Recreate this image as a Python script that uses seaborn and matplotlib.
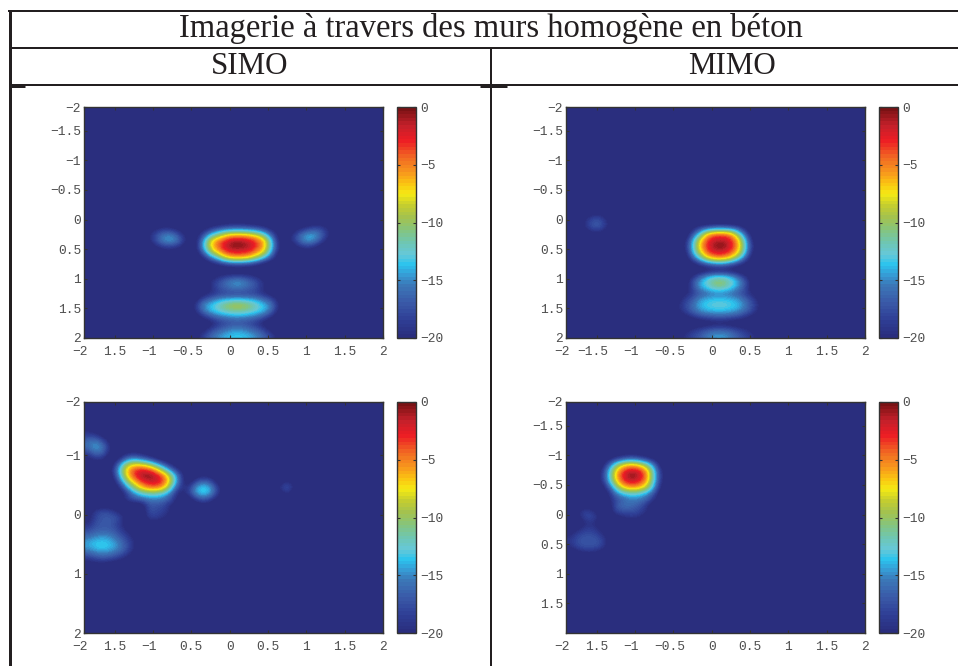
import numpy as np
import matplotlib
matplotlib.use('Agg')
import matplotlib.pyplot as plt
from matplotlib.colors import LinearSegmentedColormap
from matplotlib.lines import Line2D
from matplotlib.transforms import ScaledTranslation
import seaborn as sns

# Image values in dB on a 0.1 grid covering -1.9..2
n_cells = 39
floor_db = -22

simo_top_main = [
    [-22, -22, -22, -21.5, -21, -20.5, -20.5, -21, -21.5, -22, -22, -22],
    [-22, -21, -19, -17.5, -16.5, -16, -16, -16.5, -17, -18.5, -20.5, -22],
    [-21.5, -18, -14, -11, -8, -7, -7, -7.5, -9, -12, -17, -21],
    [-21.5, -15, -8, -5, -3, -1.2, -1.2, -2.2, -3.5, -6.5, -13.5, -21],
    [-21, -14, -7.5, -4, -1.5, 0, -0.2, -1, -3, -6, -13, -20],
    [-21.5, -16.5, -10, -6.5, -3.5, -2.5, -2.5, -3, -5, -8, -14.5, -21],
    [-22, -20.5, -16, -12.5, -8, -6.5, -6.5, -7.5, -10, -13.5, -18, -22],
    [-22, -22, -21, -19.5, -18, -17, -17, -17.5, -19, -21, -22, -22],
    [-22, -22, -22, -22, -22, -22, -22, -22, -22, -22, -22, -22],
]
simo_top_lower = [
    [-22, -22, -21.5, -20, -19, -18.5, -18.5, -19, -20, -21.5, -22, -22],
    [-22, -22, -19.5, -17.5, -16, -14.5, -14.5, -16, -17.5, -19.5, -22, -22],
    [-22, -22, -20, -17.5, -16.5, -15.5, -15.5, -16.5, -17.5, -20, -22, -22],
    [-22, -21, -19.5, -18.5, -18, -18, -18, -18, -18.5, -19.5, -21, -22],
    [-21, -17.5, -16, -14.5, -14, -13.5, -13.5, -14, -14.5, -16, -17.5, -21],
    [-19, -15, -13.5, -12, -10, -9, -9, -10, -12, -13.5, -15.5, -20],
    [-20, -16, -14, -13, -12, -11.5, -11.5, -12, -13, -14, -16.5, -21],
    [-22, -19.5, -17.5, -16, -15.5, -15, -15, -15.5, -16, -17.5, -20, -22],
    [-22, -22, -21, -19, -18, -17.5, -17.5, -18, -19, -21, -22, -22],
    [-22, -21, -18.5, -17, -16, -15, -15, -16, -17, -18.5, -21, -22],
    [-21, -18.5, -16.5, -15, -14, -13.5, -13.5, -14, -15, -16.5, -18.5, -21],
]
simo_top_side_left = [
    [-21.5, -20, -19, -19.5, -21, -22],
    [-20, -17.5, -15.5, -15.5, -18, -21],
    [-20, -17, -14.5, -14, -16.5, -20.5],
    [-21.5, -19.5, -18, -18, -19, -21.5],
    [-22, -22, -21, -21, -22, -22],
]
simo_top_side_right = [
    [-22, -22, -22, -21.5, -21, -21.5, -22],
    [-22, -21, -19.5, -18, -17.5, -19, -21.5],
    [-21.5, -18.5, -15.5, -14, -15, -18, -21],
    [-21, -18, -15, -14, -16, -19.5, -22],
    [-22, -20.5, -18.5, -18, -20, -22, -22],
    [-22, -22, -21.5, -21.5, -22, -22, -22],
]

mimo_top_main = [
    [-22, -22, -22, -22, -21.5, -21.5, -22, -22, -22, -22],
    [-22, -20.5, -17.5, -15.5, -14.5, -14.5, -15, -17, -20.5, -22],
    [-22, -17.5, -12, -6, -4, -4, -5, -10.5, -17, -22],
    [-21, -14, -7.5, -3, -1.5, -1.2, -2.5, -6.5, -14, -21],
    [-20, -13.5, -6.5, -2.5, -0.3, 0, -2, -6, -13.5, -20],
    [-21, -14, -8, -3.5, -2, -2, -3.5, -7, -14, -21],
    [-22, -17, -12, -7.5, -5.5, -5.5, -7.5, -11.5, -17, -22],
    [-22, -21, -18.5, -16.5, -15, -15, -16.5, -18.5, -21, -22],
    [-22, -22, -22, -21.5, -21, -21, -21.5, -22, -22, -22],
]
mimo_top_lower = [
    [-22, -22, -20, -17, -14.5, -13.5, -13.5, -14.5, -17, -20, -22, -22],
    [-22, -21.5, -17.5, -14, -12, -10, -10, -12, -14, -17.5, -21.5, -22],
    [-22, -21.5, -18, -14.5, -13, -11.5, -11.5, -13, -15, -18, -21.5, -22],
    [-22, -20.5, -18.5, -17, -16, -15.5, -15.5, -16, -17, -18.5, -20.5, -22],
    [-21, -18.5, -17, -14.5, -13.8, -13.5, -13.5, -13.8, -14.5, -16.5, -18.5, -21],
    [-20, -18, -16, -13.8, -13, -12.5, -12.5, -13, -13.8, -15.5, -18, -20.5],
    [-20.5, -18.5, -16.5, -15, -14.2, -14, -14, -14.2, -15, -16.5, -18.5, -21],
    [-22, -21, -19.5, -18, -17.5, -17, -17, -17.5, -18, -19.5, -21, -22],
    [-22, -22, -22, -22, -21.5, -21, -21, -21.5, -22, -22, -22, -22],
    [-22, -21, -19.5, -18.5, -17.5, -17, -17, -17.5, -18.5, -19.5, -21, -22],
    [-21, -19.5, -18, -17, -15.5, -14.5, -14.5, -15.5, -17, -18, -19.5, -21],
]
mimo_top_side = [
    [-21, -18.5, -18.5, -21.5],
    [-19, -17, -17, -19.5],
    [-20, -17.5, -17.5, -20.5],
    [-22, -21, -21, -22],
]

simo_bottom_main = [
    [-22, -22, -20.5, -20, -20.5, -22, -22, -22, -22, -22, -22],
    [-22, -20.5, -16.5, -15, -16.5, -18, -20.5, -22, -22, -22, -22],
    [-21.5, -16, -10, -7.5, -8, -10, -13.5, -17, -20.5, -22, -22],
    [-20.5, -14, -7, -3.5, -2.2, -3, -6, -11, -15.5, -20, -22],
    [-21.5, -15, -8, -3.5, -0.8, 0, -1.6, -4.5, -10.5, -17, -21.5],
    [-22, -18, -11, -7, -3.5, -2, -1.8, -4, -10, -17, -21.5],
    [-22, -20.5, -15.5, -10.5, -7, -5, -4.8, -7, -13, -19, -22],
    [-22, -22, -19, -15, -13, -12, -12, -13.5, -16.5, -21, -22],
    [-22, -21.5, -19, -17.5, -16.5, -15.8, -15.5, -16, -18, -21.5, -22],
    [-22, -20.5, -18, -16.8, -16.5, -17, -17.5, -18, -20.5, -22, -22],
    [-22, -21.5, -19.5, -18, -17.5, -17.5, -18, -18.5, -20.5, -22, -22],
    [-22, -22, -21.5, -20.5, -19.5, -18.5, -18.5, -19.5, -21.5, -22, -22],
    [-22, -22, -22, -22, -22, -21, -21, -22, -22, -22, -22],
]
simo_bottom_spot = [
    [-22, -21, -20, -20.5, -22],
    [-22, -18, -15.5, -17, -21],
    [-19.5, -14.5, -12.8, -14, -18.5],
    [-19.5, -15, -13.2, -14.5, -19],
    [-22, -19, -17, -18.5, -21.5],
    [-22, -22, -21, -21.5, -22],
]
simo_bottom_faint = [
    [-21, -19, -21],
    [-19.5, -16.5, -20.5],
    [-21.5, -19.5, -21.5],
]
simo_bottom_corner = [
    [-20.5, -21.5, -22, -22],
    [-18.5, -19, -21, -22],
    [-16.5, -15.5, -18, -21],
    [-16, -14, -15.5, -20],
    [-18, -15.5, -16.5, -20.5],
    [-20.5, -18.5, -19, -22],
    [-22, -21.5, -21.5, -22],
]
simo_bottom_low = [
    [-22, -21.5, -21, -21.5, -22, -22, -22, -22],
    [-21.5, -18.5, -17.5, -18, -20, -22, -22, -22],
    [-21, -18, -17, -17, -17.5, -20.5, -22, -22],
    [-20, -17.5, -17, -17, -18.5, -21, -22, -22],
    [-18, -17, -16.8, -17, -18, -20, -22, -22],
    [-16.5, -15.5, -15, -15.5, -17, -18.5, -20.5, -22],
    [-14.5, -13.7, -13.5, -14, -15.5, -17.5, -19.5, -22],
    [-14.5, -13.5, -13, -13.8, -15, -17, -19.5, -22],
    [-16.5, -15.5, -15, -15.5, -16.5, -18, -20.5, -22],
    [-19, -18, -17.5, -18, -19, -20.5, -22, -22],
    [-21.5, -21, -21, -21.5, -22, -22, -22, -22],
]

mimo_bottom_main = [
    [-22, -22, -22, -21.5, -21, -21.5, -22, -22, -22],
    [-22, -21, -19, -17.5, -16.5, -17.5, -19, -21, -22],
    [-22, -17.5, -12, -8, -7, -8, -11, -16, -21.5],
    [-20.5, -14.5, -7.5, -3.5, -1.8, -2.5, -6, -13, -20],
    [-20, -14, -6.5, -2, 0, -1, -4.5, -12.5, -19.5],
    [-20.5, -15, -8, -3.5, -2, -2.8, -6, -13, -20],
    [-22, -18, -12, -7.5, -6, -6.5, -9, -14.5, -21],
    [-22, -20.5, -15.5, -13.5, -12.5, -13, -14.5, -17.5, -22],
    [-22, -20.5, -18, -16.5, -15.5, -15.5, -16.5, -19.5, -22],
    [-22, -19, -17, -15.8, -16, -17, -19, -22, -22],
    [-22, -20.5, -18, -17.5, -17.5, -18, -19.5, -22, -22],
    [-22, -22, -21, -20, -19, -19.5, -21.5, -22, -22],
    [-22, -22, -22, -22, -21.5, -22, -22, -22, -22],
]
mimo_bottom_low = [
    [-22, -22, -21, -21.5, -22, -22],
    [-22, -20, -18, -19, -21.5, -22],
    [-22, -21, -18, -17.8, -20.5, -22],
    [-22, -22, -19.8, -19.5, -21.5, -22],
    [-21.5, -20, -18.5, -18.5, -20, -22],
    [-20, -18, -17.5, -17.5, -18.5, -21],
    [-19, -17.5, -17, -17, -17.5, -20],
    [-20, -18, -17.5, -17.5, -18, -21],
    [-22, -21, -20, -20, -21, -22],
]

# Tick values (the first tick really sits at -1.9) and the labels as printed
axis_start = -1.9
x_ticks = [-1.9, -1.5, -1, -0.5, 0, 0.5, 1, 1.5, 2]
y_ticks_all = [-1.9, -1.5, -1, -0.5, 0, 0.5, 1, 1.5, 2]
y_ticks_sparse = [-1.9, -1, 0, 1, 2]
y_ticks_no_end = [-1.9, -1.5, -1, -0.5, 0, 0.5, 1, 1.5]
x_labels_a = ['-2', '1.5', '-1', '-0.5', '0', '0.5', '1', '1.5', '2']
x_labels_b = ['-2', '-1.5', '-1', '-0.5', '0', '0.5', '1', '1.5', '2']
x_labels_c = ['-2', '1.5', '-1', '0.5', '0', '0.5', '1', '1.5', '2']
y_labels_all = ['-2', '-1.5', '-1', '-0.5', '0', '0.5', '1', '1.5', '2']
y_labels_sparse = ['-2', '-1', '0', '1', '2']
y_labels_no_end = ['-2', '-1.5', '-1', '-0.5', '0', '0.5', '1', '1.5']
cbar_ticks = [0, -5, -10, -15, -20]

title_text = 'Imagerie à travers des murs homogène en béton'
column_titles = ['SIMO', 'MIMO']

# Jet as printed (CMYK look), value in dB -> colour
jet_stops = [
    (-20, '#2A2E7E'), (-18.5, '#2F3F96'), (-17, '#3A5AA8'), (-15.5, '#3B78B8'),
    (-14.5, '#35A0D8'), (-13.7, '#2BC4EE'), (-12.8, '#66C8D8'), (-11.8, '#6EC6B4'),
    (-10.7, '#84C57F'), (-9.5, '#A5C24D'), (-8.5, '#C5CE2E'), (-7.5, '#F5EA14'),
    (-6.5, '#FBC012'), (-5.5, '#F7941D'), (-4.3, '#F16A23'), (-2.8, '#ED1C24'),
    (-1.5, '#C4202A'), (0, '#7A1214'),
]
jet_print = LinearSegmentedColormap.from_list(
    'jet_print', [((v + 20) / 20, c) for v, c in jet_stops], N=64)

INK = '#231F20'
TICK_TEXT = '#4D4D4D'
W, H = 959, 666
fig = plt.figure(figsize=(W / 100, H / 100), dpi=100, facecolor='white')


def px_axes(left, top, right, bottom):
    """Axes from pixel edges of the picture."""
    return fig.add_axes([left / W, 1 - bottom / H, (right - left) / W, (bottom - top) / H])


def build_grid(patches):
    """Put the read patches (first row, first col, values) on the background."""
    grid = np.full((n_cells, n_cells), float(floor_db))
    for row, col, values in patches:
        values = np.array(values, dtype=float)
        grid[row:row + values.shape[0], col:col + values.shape[1]] = values
    return grid


def to_cell(ticks):
    return [(t - axis_start) / 0.1 for t in ticks]


def style_labels(labels):
    for label in labels:
        label.set_fontfamily('Liberation Mono')
        label.set_fontsize(9.3)
        label.set_color(TICK_TEXT)


def plot_panel(box, cbar_box, patches, x_labels, y_ticks, y_labels):
    """One image with its colour bar."""
    ax = px_axes(*box)
    cax = px_axes(*cbar_box)
    grid = build_grid(patches)
    sns.heatmap(grid, ax=ax, cbar_ax=cax, cmap=jet_print, vmin=-20, vmax=0,
                xticklabels=False, yticklabels=False)
    # smooth display of the same cells, like "shading interp"
    ax.imshow(grid, cmap=jet_print, vmin=-20, vmax=0, aspect='auto',
              extent=(0, n_cells, n_cells, 0), interpolation='bicubic',
              interpolation_stage='data', zorder=1.2)
    ax.set_xlim(0, n_cells)
    ax.set_ylim(n_cells, 0)

    ax.set_xticks(to_cell(x_ticks), [s.replace('-', '\u2212') for s in x_labels])
    ax.set_yticks(to_cell(y_ticks), [s.replace('-', '\u2212') for s in y_labels])
    ax.tick_params(direction='in', length=2.5, width=0.8, color='#333333',
                   top=True, right=True)
    ax.tick_params(axis='x', pad=5.5)
    ax.tick_params(axis='y', pad=2)
    style_labels(ax.get_xticklabels() + ax.get_yticklabels())
    for spine in ax.spines.values():
        spine.set_visible(True)
        spine.set_linewidth(1)
        spine.set_edgecolor('#333333')

    # labels with a minus hang to the left of their tick
    shift = ScaledTranslation(-0.04, 0, fig.dpi_scale_trans)
    for label in ax.get_xticklabels():
        if label.get_text().startswith('\u2212'):
            label.set_transform(label.get_transform() + shift)

    cax.set_yticks(cbar_ticks, [str(t).replace('-', '\u2212') for t in cbar_ticks])
    cax.tick_params(direction='in', length=2.5, width=0.8, color='#333333',
                    left=True, right=True, pad=3)
    style_labels(cax.get_yticklabels())
    cbar = ax.collections[0].colorbar
    cbar.outline.set_visible(True)
    cbar.outline.set_linewidth(1)
    cbar.outline.set_edgecolor('#333333')


plot_panel((84, 107, 383, 338), (397, 107, 416, 338),
           [(19, 14, simo_top_main), (28, 14, simo_top_lower),
            (20, 8, simo_top_side_left), (19, 26, simo_top_side_right)],
           x_labels_a, y_ticks_all, y_labels_all)
plot_panel((566, 107, 865, 338), (879, 107, 898, 338),
           [(19, 15, mimo_top_main), (28, 14, mimo_top_lower), (18, 2, mimo_top_side)],
           x_labels_b, y_ticks_all, y_labels_all)
plot_panel((84, 402, 383, 633), (397, 402, 416, 633),
           [(8, 3, simo_bottom_main), (12, 13, simo_bottom_spot),
            (13, 25, simo_bottom_faint), (4, 0, simo_bottom_corner),
            (17, 0, simo_bottom_low)],
           x_labels_c, y_ticks_sparse, y_labels_sparse)
plot_panel((566, 402, 865, 633), (879, 402, 898, 633),
           [(8, 4, mimo_bottom_main), (17, 0, mimo_bottom_low)],
           x_labels_a, y_ticks_no_end, y_labels_no_end)


def rule(x0, y0, x1, y1, width):
    """Table line given in picture pixels."""
    fig.add_artist(Line2D([x0 / W, x1 / W], [1 - y0 / H, 1 - y1 / H], color=INK,
                          linewidth=width * 0.72, solid_capstyle='butt'))


# Table frame
rule(8, 11, 958, 11, 2)
rule(9.5, 11, 9.5, 666, 3)
rule(9, 48, 958, 48, 2)
rule(9, 85, 958, 85, 2)
rule(11, 85.5, 25, 85.5, 3)
rule(480, 85.5, 507, 85.5, 3)
rule(491, 48, 491, 666, 2)

fig.text(491 / W, 1 - 37 / H, title_text, family='Liberation Serif', fontsize=23.5,
         color=INK, ha='center', va='baseline')
fig.text(250 / W, 1 - 74 / H, column_titles[0], family='Liberation Serif', fontsize=22.3,
         color=INK, ha='center', va='baseline')
fig.text(732 / W, 1 - 74 / H, column_titles[1], family='Liberation Serif', fontsize=22.3,
         color=INK, ha='center', va='baseline')

fig.savefig('out.png', dpi=100)
